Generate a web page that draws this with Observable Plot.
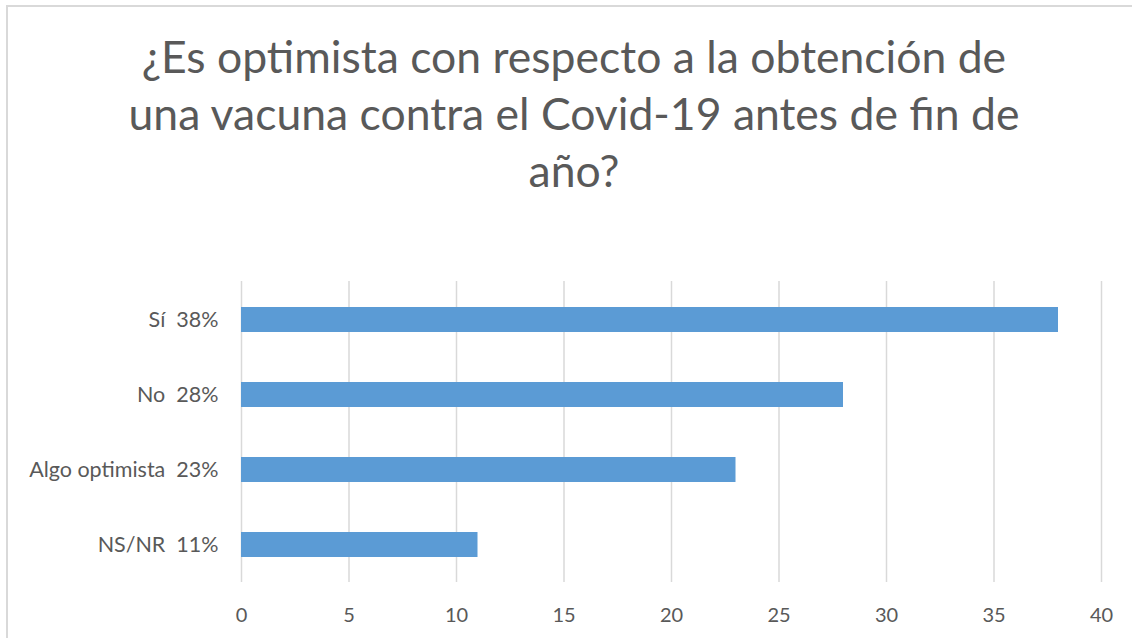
<!DOCTYPE html>
<html><head><meta charset="utf-8">
<script src="https://cdn.jsdelivr.net/npm/d3@7"></script>
<script src="https://cdn.jsdelivr.net/npm/@observablehq/plot@0.6"></script>
<style>
html,body{margin:0;padding:0;background:#fff;width:1132px;height:638px;overflow:hidden;}
#frame{position:absolute;left:6px;top:5px;width:1140px;height:650px;border-left:2px solid #d9d9d9;border-top:2px solid #d9d9d9;z-index:2;pointer-events:none;}
#title{position:absolute;left:8px;top:0;width:1132px;text-align:center;font-family:Lato,"Open Sans",sans-serif;font-size:44.5px;line-height:57px;color:#595959;padding-top:27px;}
#chart{position:absolute;left:0;top:250px;}
#chart svg text{white-space:pre;}
</style></head>
<body>
<div id="frame"></div>
<div id="title"></div>
<div id="chart"></div>
<script>
const titleLines = ["¿Es optimista con respecto a la obtención de","una vacuna contra el Covid-19 antes de fin de","año?"];
const categories = ["Sí","No","Algo optimista","NS/NR"];
const values = [38,28,23,11];
const pctLabels = ["38%","28%","23%","11%"];
const xTicks = [0,5,10,15,20,25,30,35,40];

document.getElementById("title").innerHTML = titleLines.join("<br>");

const data = categories.map((c,i)=>({cat:c, value:values[i], pct:pctLabels[i]}));
const labelOf = Object.fromEntries(data.map(d=>[d.cat, d.cat + "  " + d.pct]));

const chart = Plot.plot({
  width: 1132,
  height: 388,
  marginTop: 31,
  marginBottom: 56,
  marginLeft: 241,
  marginRight: 31,
  style: {fontFamily: 'Lato, "Open Sans", sans-serif', fontSize: "20px", color: "#595959", background: "transparent"},
  x: {domain: [0,40], ticks: xTicks, label: null},
  y: {domain: categories, paddingInner: 0.668, paddingOuter: 0.334, label: null},
  marks: [
    Plot.gridX(xTicks, {stroke: "#d9d9d9", strokeOpacity: 1, strokeWidth: 1.5}),
    Plot.barX(data, {x: "value", y: "cat", fill: "#5B9BD5"}),
    Plot.axisX({ticks: xTicks, tickSize: 0, tickPadding: 25, fontSize: 20, fill: "#595959", label: null}),
    Plot.axisY({tickSize: 0, tickPadding: 23, fontSize: 21.5, fill: "#595959", tickFormat: d => labelOf[d], label: null})
  ]
});
document.getElementById("chart").appendChild(chart);
</script>
</body></html>
